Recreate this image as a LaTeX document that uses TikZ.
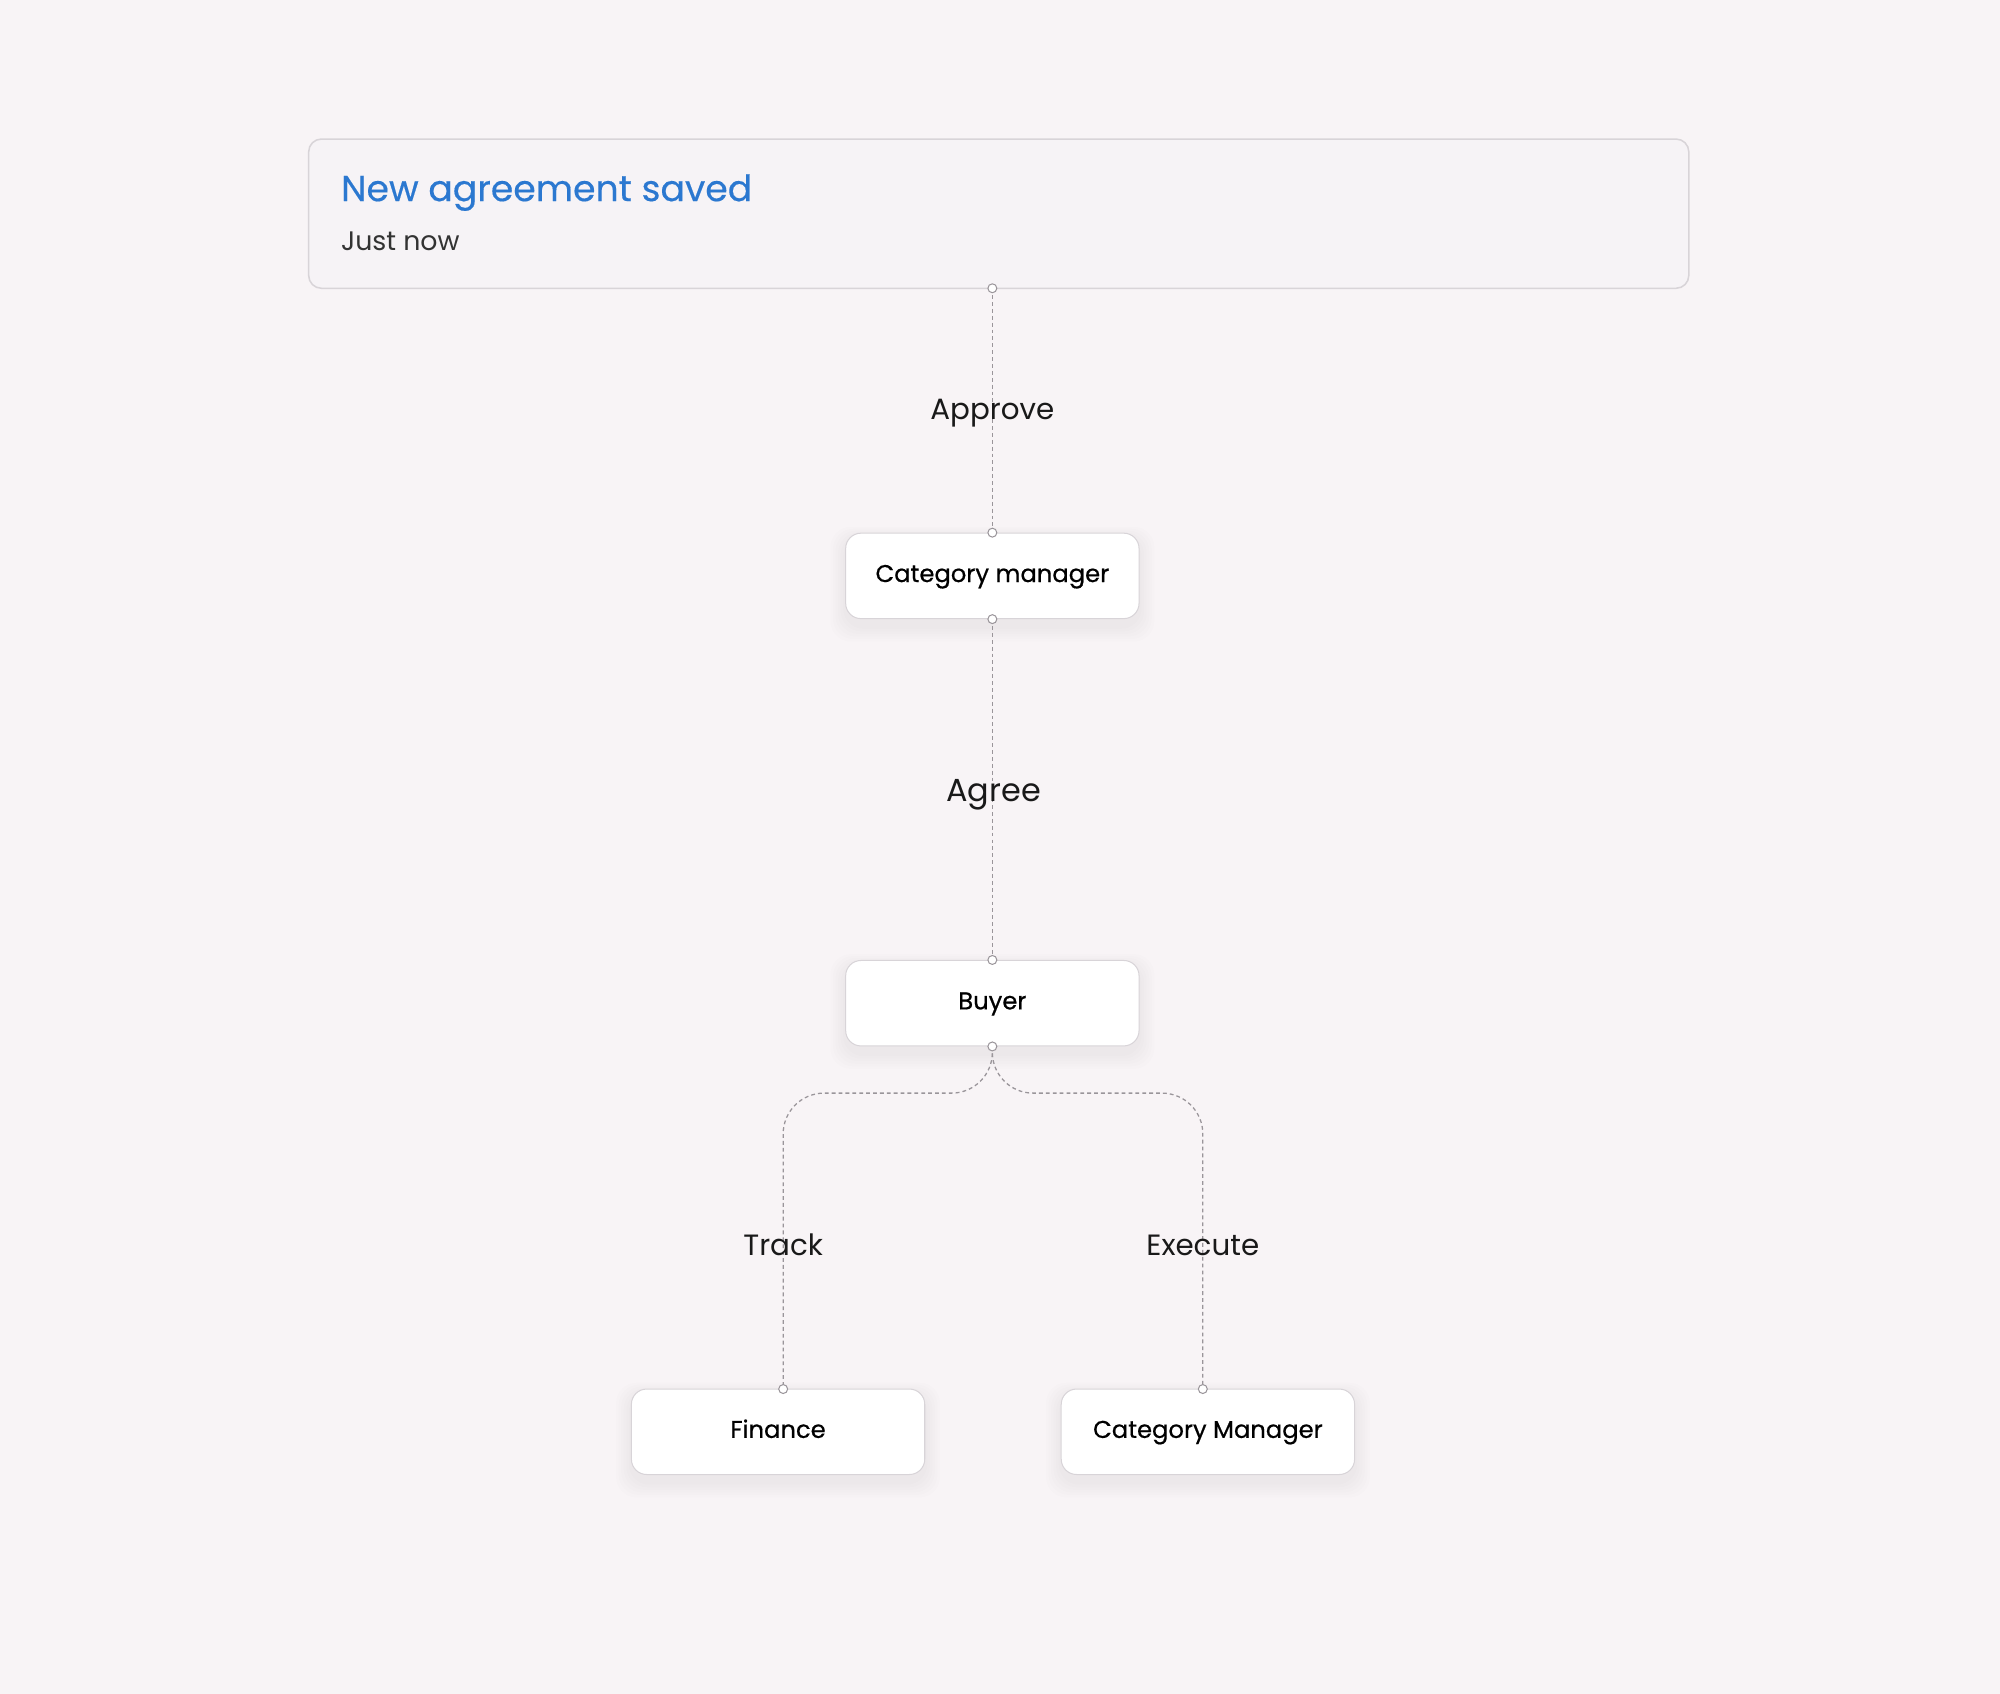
\documentclass[tikz,border=0pt]{standalone}
\usepackage{fontspec}
\setmainfont{Poppins}
\newfontfamily\boxfont[FakeBold=0.6]{Poppins}
\newfontfamily\titlefont[FakeBold=0.4]{Poppins}
\definecolor{bg}{HTML}{F8F4F6}
\definecolor{hdrfill}{HTML}{F6F3F6}
\definecolor{hdrline}{HTML}{D8D4D8}
\definecolor{blu}{HTML}{2B78D0}
\definecolor{conn}{HTML}{9A959A}
\tikzset{
 rolebox/.style={draw=hdrline,fill=white,rounded corners=6,minimum width=115,minimum height=33.5,inner sep=0},
 boxtext/.style={font=\boxfont\fontsize{9.5}{12}\selectfont,text=black,inner sep=0,text height=7pt,text depth=2.2pt},
 link/.style={draw=conn,dash pattern=on 1.5pt off 1.2pt,line width=0.5pt,rounded corners=16},
 elabel/.style={font=\fontsize{11.5}{14}\selectfont,text=black!90},
 dot/.style={circle,draw=conn,fill=white,inner sep=0,minimum size=3.5pt,line width=0.4pt}
}
\newcommand{\softshadow}[4]{%
 \foreach \k in {1,...,6}{
  \fill[black,opacity=0.008,rounded corners=8] (#1-#3/2-\k*2,#2-#4/2+4-\k*1.5) rectangle (#1+#3/2+\k*2,#2+#4/2+6+\k*2);}
}
\begin{document}
\begin{tikzpicture}[x=0.5pt,y=-0.5pt]
\fill[bg] (0,0) rectangle (1568,1328);
\useasboundingbox (0,0) rectangle (1568,1328);
\node[draw=hdrline,fill=hdrfill,rounded corners=5,line width=0.6pt,minimum width=541,minimum height=58.5,inner sep=0] (hdr) at (783,167.5) {};
\node[anchor=west,inner sep=0,text=blu,font=\titlefont\fontsize{14.2}{18}\selectfont] (title) at (267,151) {New agreement saved};
\node[anchor=west,inner sep=0,text=black!80,font=\fontsize{10.5}{13}\selectfont] (time) at (267,189) {Just now};
\softshadow{778}{451.5}{230}{67}
\softshadow{778}{786.5}{230}{67}
\softshadow{610}{1122.5}{230}{67}
\softshadow{947}{1122.5}{230}{67}
\node[rolebox] (cm) at (778,451.5) {};
\node[rolebox] (buyer) at (778,786.5) {};
\node[rolebox] (fin) at (610,1122.5) {};
\node[rolebox] (cm2) at (947,1122.5) {};
\node[boxtext] (cmt) at ([yshift=0pt]cm.center) {Category manager};
\node[boxtext] (buyert) at ([yshift=0pt]buyer.center) {Buyer};
\node[boxtext] (fint2) at ([yshift=0pt]fin.center) {Finance};
\node[boxtext] (cm2t2) at ([yshift=0pt]cm2.center) {Category Manager};
\coordinate (hb) at (778,226);
\coordinate (fint) at (614,1089);
\coordinate (cm2t) at (943,1089);
\draw[link] (hb) -- (cm.north);
\draw[link] (cm.south) -- (buyer.north);
\draw[link] (buyer.south) -- (778,857) -| (fint);
\draw[link] (buyer.south) -- (778,857) -| (cm2t);
\foreach \p in {hb,cm.north,cm.south,buyer.north,buyer.south,fint,cm2t} \node[dot] at (\p) {};
\node[elabel] (l1) at (778,324) {Approve};
\node[elabel,font=\fontsize{12.5}{15}\selectfont] (l2) at (779,623) {Agree};
\node[elabel] (l3) at (614,976) {Track};
\node[elabel] (l4) at (943,976) {Execute};
\end{tikzpicture}
\end{document}
